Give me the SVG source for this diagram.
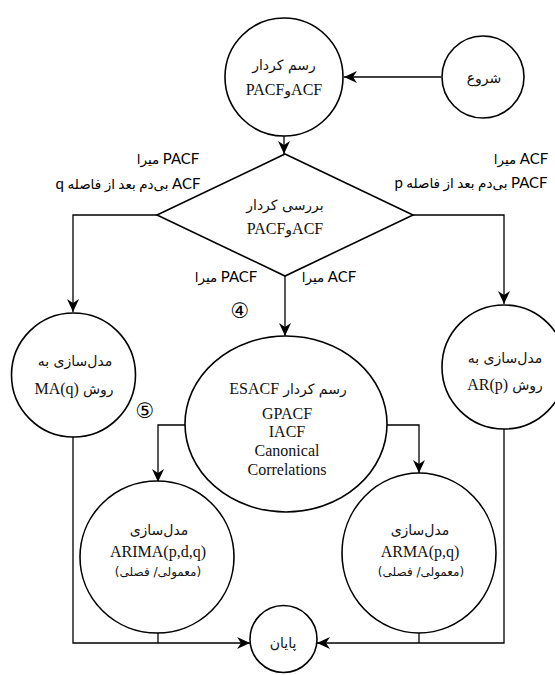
<svg xmlns="http://www.w3.org/2000/svg" width="555" height="675" viewBox="0 0 555 675">
<style>
.shape{fill:#fff;stroke:#000;stroke-width:1.6}
.line{fill:none;stroke:#000;stroke-width:1.3}
.t{font-family:"Liberation Serif","DejaVu Sans",serif;font-size:16px;fill:#111;text-anchor:middle}
.ar{font-family:"DejaVu Sans","Noto Sans",sans-serif;font-size:14px}
.ts{font-family:"DejaVu Sans","Liberation Serif",sans-serif;font-size:12px;fill:#111;text-anchor:middle}
.fa{font-family:"DejaVu Sans","Noto Sans",sans-serif;font-size:14px;fill:#111;text-anchor:middle}
.lb{font-family:"Lato","DejaVu Sans",sans-serif;font-size:13.5px;fill:#000;text-anchor:middle}
.lat{font-size:15px}
.num{font-family:"DejaVu Sans",sans-serif;font-size:21px;fill:#000;text-anchor:middle}
</style>
<defs>
<marker id="arr" markerWidth="14" markerHeight="12" refX="13" refY="6" orient="auto" markerUnits="userSpaceOnUse">
<path d="M0,0 L13,6 L0,12 L4,6 z" fill="#000"/>
</marker>
</defs>
<rect width="555" height="675" fill="#fff"/>
<g id="connectors">
<path class="line" d="M441,77 L344,77" marker-end="url(#arr)"/>
<path class="line" d="M284,136 L284,154" marker-end="url(#arr)"/>
<path class="line" d="M157,215 L73,215 L73,312" marker-end="url(#arr)"/>
<path class="line" d="M413,215 L504,215 L504,304" marker-end="url(#arr)"/>
<path class="line" d="M285,276 L285,336" marker-end="url(#arr)"/>
<path class="line" d="M185,425 L158,425 L158,482" marker-end="url(#arr)"/>
<path class="line" d="M387,425 L419,425 L419,473" marker-end="url(#arr)"/>
<path class="line" d="M73,437 L73,643 L250,643" marker-end="url(#arr)"/>
<path class="line" d="M158,633 L158,643"/>
<path class="line" d="M504,429 L504,643 L317,643" marker-end="url(#arr)"/>
<path class="line" d="M419,633 L419,643"/>
</g>
<g id="labels">
<text class="lb" x="168" y="164" direction="rtl"><tspan class="lat">PACF</tspan> میرا</text>
<text class="lb" x="128" y="189" direction="rtl"><tspan class="lat">ACF</tspan> بی‌دم بعد از فاصله <tspan class="lat">q</tspan></text>
<text class="lb" x="521" y="164" direction="rtl"><tspan class="lat">ACF</tspan> میرا</text>
<text class="lb" x="471" y="188" direction="rtl"><tspan class="lat">PACF</tspan> بی‌دم بعد از فاصله <tspan class="lat">p</tspan></text>
<text class="lb" x="226" y="282" direction="rtl"><tspan class="lat">PACF</tspan> میرا</text>
<text class="lb" x="329" y="282" direction="rtl"><tspan class="lat">ACF</tspan> میرا</text>
<text class="num" x="240" y="318">④</text>
<text class="num" x="145" y="418">⑤</text>
</g>
<g id="start">
<circle class="shape" cx="483" cy="77" r="41"/>
<text class="fa" x="484" y="83" direction="rtl">شروع</text>
</g>
<g id="plot">
<circle class="shape" cx="284" cy="77" r="59"/>
<text class="t" x="284" y="70" direction="rtl"><tspan class="ar">رسم کردار</tspan></text>
<text class="t" x="284" y="95" direction="rtl">ACF<tspan class="ar">و</tspan>PACF</text>
</g>
<g id="decision">
<polygon class="shape" points="285,154 413,215 285,276 157,215"/>
<text class="t" x="285" y="210" direction="rtl"><tspan class="ar">بررسی کردار</tspan></text>
<text class="t" x="285" y="234" direction="rtl">ACF<tspan class="ar">و</tspan>PACF</text>
</g>
<g id="ma">
<circle class="shape" cx="73.5" cy="375" r="62"/>
<text class="t" x="75" y="366" direction="rtl"><tspan class="ar">مدل‌سازی به</tspan></text>
<text class="t" x="74" y="394" direction="rtl"><tspan class="ar">روش</tspan> MA(q)</text>
</g>
<g id="ar">
<circle class="shape" cx="504" cy="367" r="62"/>
<text class="t" x="505" y="363" direction="rtl"><tspan class="ar">مدل‌سازی به</tspan></text>
<text class="t" x="505" y="390" direction="rtl"><tspan class="ar">روش</tspan> AR(p)</text>
</g>
<g id="esacf">
<ellipse class="shape" cx="286" cy="424" rx="101" ry="88"/>
<text class="t" x="288" y="394" direction="rtl"><tspan class="ar">رسم کردار</tspan> ESACF</text>
<text class="t" x="287" y="419">GPACF</text>
<text class="t" x="287" y="437">IACF</text>
<text class="t" x="287" y="456">Canonical</text>
<text class="t" x="287" y="475">Correlations</text>
</g>
<g id="arima">
<ellipse class="shape" cx="157" cy="557" rx="77" ry="76"/>
<text class="t" x="159" y="535" direction="rtl"><tspan class="ar">مدل‌سازی</tspan></text>
<text class="t" x="158" y="557">ARIMA(p,d,q)</text>
<text class="ts" x="158" y="576" direction="rtl">(معمولی/ فصلی)</text>
</g>
<g id="arma">
<ellipse class="shape" cx="419" cy="553" rx="77" ry="80"/>
<text class="t" x="420" y="535" direction="rtl"><tspan class="ar">مدل‌سازی</tspan></text>
<text class="t" x="420" y="557">ARMA(p,q)</text>
<text class="ts" x="421" y="576" direction="rtl">(معمولی/ فصلی)</text>
</g>
<g id="end">
<circle class="shape" cx="283.5" cy="639" r="33.5"/>
<text class="fa" x="283" y="648" direction="rtl">پایان</text>
</g>
</svg>
